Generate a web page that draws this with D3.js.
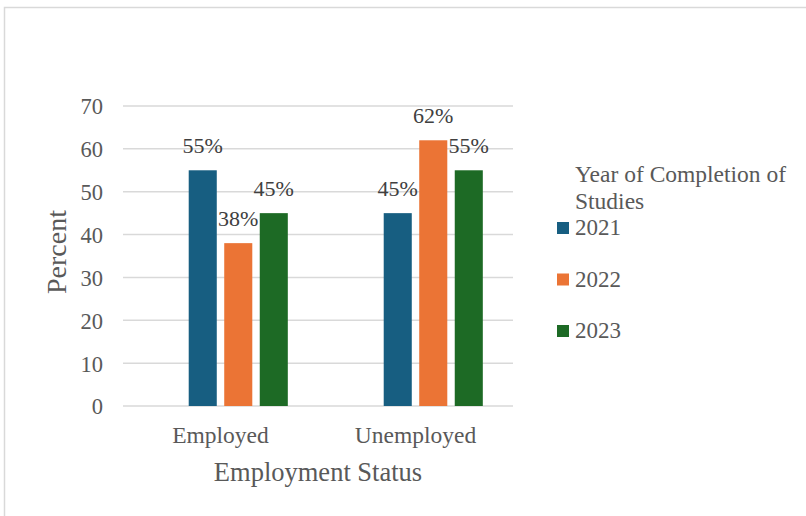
<!DOCTYPE html>
<html>
<head>
<meta charset="utf-8">
<script src="https://cdn.jsdelivr.net/npm/d3@7/dist/d3.min.js"></script>
<style>
  html, body { margin: 0; padding: 0; background: #fff; }
  svg { display: block; }
  svg text { font-family: "Liberation Serif", "Times New Roman", serif; }
</style>
</head>
<body>
<svg id="chart" width="806" height="516"></svg>
<script>
// Employment status by year of completion of studies (percent)
const categories = ["Employed", "Unemployed"];
const years = ["2021", "2022", "2023"];
const values2021 = [55, 45];
const values2022 = [38, 62];
const values2023 = [45, 55];
const yTicks = [0, 10, 20, 30, 40, 50, 60, 70];
const colors = ["#175e81", "#eb7435", "#1d6a25"];
const xTitle = "Employment Status";
const yTitle = "Percent";
const legendTitle = ["Year of Completion of", "Studies"];

const series = [values2021, values2022, values2023];
const rows = categories.map((c, i) => ({
  category: c,
  bars: years.map((y, j) => ({ year: y, value: series[j][i], color: colors[j] }))
}));

const serif = "'Liberation Serif', 'Times New Roman', serif";
const svg = d3.select("#chart").attr("font-family", serif);
const textGray = "#595959";

// outer frame
svg.append("rect")
  .attr("x", 4.5).attr("y", 7.5)
  .attr("width", 820).attr("height", 530)
  .attr("fill", "#fff")
  .attr("stroke", "#d9d9d9").attr("stroke-width", 1.5);

const plot = { left: 123, right: 513, top: 106, bottom: 406 };

const y = d3.scaleLinear().domain([0, 70]).range([plot.bottom, plot.top]);
const x0 = d3.scaleBand().domain(categories).range([plot.left, plot.right]).padding(0);
// four slots per cluster; the first one is left empty
const x1 = d3.scaleBand().domain(["", ...years])
  .range([0, x0.bandwidth()]).paddingInner(0.21).paddingOuter(0.85);

// gridlines
svg.append("g")
  .selectAll("line")
  .data(yTicks)
  .join("line")
  .attr("x1", plot.left).attr("x2", plot.right)
  .attr("y1", d => y(d)).attr("y2", d => y(d))
  .attr("stroke", "#d9d9d9").attr("stroke-width", 1.5);

// y axis tick labels
const yAxis = svg.append("g")
  .attr("transform", `translate(${plot.left - 20},0)`)
  .call(d3.axisLeft(y).tickValues(yTicks).tickSize(0).tickPadding(0))
  .attr("font-family", serif);
yAxis.select(".domain").remove();
yAxis.selectAll("text")
  .attr("font-size", 22.5)
  .attr("fill", textGray)
  .attr("dy", "0.35em");

// x axis category labels
const xAxis = svg.append("g")
  .attr("transform", `translate(0,${plot.bottom})`)
  .call(d3.axisBottom(x0).tickSize(0).tickPadding(0))
  .attr("font-family", serif);
xAxis.select(".domain").remove();
xAxis.selectAll("text")
  .attr("font-size", 23.5)
  .attr("fill", textGray)
  .attr("y", 37)
  .attr("dy", 0);

// bars
const groups = svg.append("g")
  .selectAll("g")
  .data(rows)
  .join("g")
  .attr("transform", d => `translate(${x0(d.category)},0)`);

groups.selectAll("rect")
  .data(d => d.bars)
  .join("rect")
  .attr("x", d => x1(d.year))
  .attr("width", x1.bandwidth())
  .attr("y", d => y(d.value))
  .attr("height", d => y(0) - y(d.value))
  .attr("fill", d => d.color);

// value labels
groups.selectAll("text")
  .data(d => d.bars)
  .join("text")
  .attr("x", d => x1(d.year) + x1.bandwidth() / 2)
  .attr("y", d => y(d.value) - 17)
  .attr("text-anchor", "middle")
  .attr("font-size", 22)
  .attr("fill", "#404040")
  .text(d => d.value + "%");

// axis titles
svg.append("text")
  .attr("x", (plot.left + plot.right) / 2)
  .attr("y", 481)
  .attr("text-anchor", "middle")
  .attr("font-size", 26.5)
  .attr("fill", textGray)
  .text(xTitle);

svg.append("text")
  .attr("transform", `translate(66,252) rotate(-90)`)
  .attr("text-anchor", "middle")
  .attr("font-size", 28)
  .attr("fill", textGray)
  .text(yTitle);

// legend
const legend = svg.append("g");
legend.selectAll("text.title")
  .data(legendTitle)
  .join("text")
  .attr("class", "title")
  .attr("x", 575)
  .attr("y", (d, i) => 182 + i * 27)
  .attr("font-size", 23.5)
  .attr("fill", textGray)
  .text(d => d);

const items = legend.selectAll("g.item")
  .data(years)
  .join("g")
  .attr("class", "item")
  .attr("transform", (d, i) => `translate(557,${235 + i * 51.5})`);
items.append("rect")
  .attr("x", 0).attr("y", -13)
  .attr("width", 12).attr("height", 12)
  .attr("fill", (d, i) => colors[i]);
items.append("text")
  .attr("x", 18).attr("y", 0)
  .attr("font-size", 23)
  .attr("fill", textGray)
  .text(d => d);
</script>
</body>
</html>
